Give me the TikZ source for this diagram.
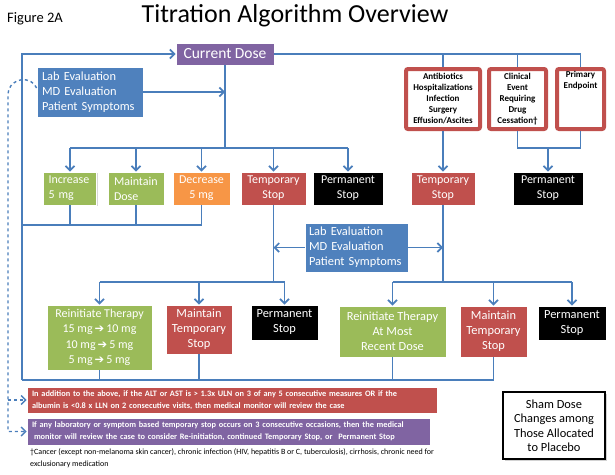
\documentclass[tikz,border=0pt]{standalone}
\usepackage{fontspec}
\setmainfont{Carlito}
\newfontfamily\symfont{DejaVu Sans}
\usetikzlibrary{arrows.meta,shadows}

\definecolor{lnblue}{HTML}{4A7EBB}
\definecolor{boxblue}{HTML}{4F81BD}
\definecolor{boxpurple}{HTML}{8064A2}
\definecolor{boxgreen}{HTML}{9BBB59}
\definecolor{boxorange}{HTML}{F79646}
\definecolor{boxred}{HTML}{C0504D}

\newcommand{\doseto}{\,{\symfont\fontsize{11.5}{10}\selectfont ➔}\,}

\tikzset{
  ln/.style={draw=lnblue, line width=1.7pt},
  dln/.style={draw=lnblue, line width=1.4pt, dashed},
  box/.style={draw=white, line width=0.8pt, inner sep=0pt, text=white,
    font=\fontsize{12}{15}\selectfont, align=center,
    drop shadow={shadow xshift=1.2pt, shadow yshift=-1.2pt, opacity=0.3}},
  greenbox/.style={box, fill=boxgreen},
  orangebox/.style={box, fill=boxorange},
  redbox/.style={box, fill=boxred},
  blackbox/.style={box, fill=black},
  bluebox/.style={box, fill=boxblue, font=\fontsize{12.4}{15}\selectfont},
  purplebox/.style={box, fill=boxpurple},
  redframe/.style={draw=boxred, line width=4pt, fill=white, rounded corners=2pt,
    inner sep=0pt, align=center, font=\fontsize{9}{11}\selectfont\bfseries,
    drop shadow={shadow xshift=1.2pt, shadow yshift=-1.2pt, opacity=0.3}},
  notebox/.style={box, inner xsep=5pt, align=left,
    font=\fontsize{8.3}{12}\selectfont\bfseries},
}

\begin{document}
\begin{tikzpicture}[x=1pt,y=-1pt,>={Straight Barb[length=4.5pt,width=9pt]}]
  \useasboundingbox[fill=white] (0,0) rectangle (615,474);

  % titel
  \node (fig) at (35,19) {\fontsize{14.5}{16}\selectfont Figure 2A};
  \node (title) at (295,16) {\fontsize{26}{30}\selectfont Titration Algorithm Overview};

  % boxen oben
  \node[purplebox, minimum width=98, minimum height=22,
    font=\fontsize{15.5}{18}\selectfont] (cur) at (225,54) {Current Dose};
  \node[bluebox, minimum height=50, text width=96, inner xsep=5pt, align=left]
    (lab1) at (90,92) {Lab Evaluation\\MD Evaluation\\Patient Symptoms};
  \node[redframe, minimum width=74, minimum height=60] (ant) at (443,99)
    {Antibiotics\\Hospitalizations\\Infection\\Surgery\\Effusion/Ascites};
  \node[redframe, minimum width=57, minimum height=60] (clin) at (517.5,99)
    {Clinical\\Event\\Requiring\\Drug\\Cessation\textdagger};
  \node[redframe, minimum width=47, minimum height=60] (prim) at (580.5,99) {};
  \node[anchor=north, inner sep=0pt, align=center,
    font=\fontsize{9}{11}\selectfont\bfseries] (primt) at ([yshift=-4pt]prim.north)
    {Primary\\Endpoint};

  % erste reihe
  \node[greenbox, minimum height=33, text width=43, inner xsep=5pt, align=left]
    (inc) at (70,188.5) {Increase\\5 mg};
  \node[greenbox, minimum height=33, text width=44, inner xsep=6pt, align=left]
    (mnt) at (136,188.5) {Maintain\\Dose};
  \node[orangebox, minimum width=57, minimum height=33] (dec) at (201.5,188.5) {Decrease\\5 mg};
  \node[redbox, minimum width=65, minimum height=33] (tmp1) at (273.5,188.5) {Temporary\\Stop};
  \node[blackbox, minimum width=70, minimum height=33] (perm1) at (348,188.5) {Permanent\\Stop};
  \node[redbox, minimum width=64, minimum height=33] (tmp2) at (443,188.5) {Temporary\\Stop};
  \node[blackbox, minimum width=70, minimum height=33] (perm2) at (548,188.5) {Permanent\\Stop};

  \node[bluebox, minimum height=49, text width=95, inner xsep=4pt, align=left]
    (lab2) at (356.5,247.5) {Lab Evaluation\\MD Evaluation\\Patient Symptoms};

  % zweite reihe
  \node[greenbox, minimum width=105, minimum height=65, font=\fontsize{12}{15.3}\selectfont]
    (rein1) at (99.5,337.5)
    {Reinitiate Therapy\\15 mg\doseto10 mg\\10 mg\doseto5 mg\\5 mg\doseto5 mg};
  \node[redbox, minimum width=66, minimum height=49, font=\fontsize{12.4}{15}\selectfont]
    (mtmp1) at (199,329.5) {Maintain\\Temporary\\Stop};
  \node[blackbox, minimum width=67, minimum height=35, font=\fontsize{12.4}{15}\selectfont]
    (perm3) at (284.5,322.5) {Permanent\\Stop};
  \node[greenbox, minimum width=107, minimum height=51, font=\fontsize{12.4}{15}\selectfont]
    (rein2) at (392.5,331.5) {Reinitiate Therapy\\At Most\\Recent Dose};
  \node[redbox, minimum width=67, minimum height=51, font=\fontsize{12.4}{15}\selectfont]
    (mtmp2) at (493.5,331.5) {Maintain\\Temporary\\Stop};
  \node[blackbox, minimum width=68, minimum height=34, font=\fontsize{12.4}{15}\selectfont]
    (perm4) at (572,323) {Permanent\\Stop};

  % hinweise unten
  \node[notebox, fill=boxred, text width=400, minimum height=26] (note1) at (232,400)
    {In addition to the above, if the ALT or AST is > 1.3x ULN on 3 of any 5 consecutive measures OR if the\\
     albumin is <0.8 x LLN on 2 consecutive visits, then medical monitor will review the case};
  \node[notebox, fill=boxpurple, text width=393, minimum height=27] (note2) at (228.5,431.5)
    {If any laboratory or symptom based temporary stop occurs on 3 consecutive occasions, then the medical\\
     \hspace{2pt}monitor will review the case to consider Re-initiation, continued Temporary Stop, or\hspace{3pt} Permanent Stop};
  \node[anchor=north west, inner sep=0pt, align=left, font=\fontsize{8}{12}\selectfont]
    (foot) at (30,448)
    {\textdagger Cancer (except non-melanoma skin cancer), chronic infection (HIV, hepatitis B or C, tuberculosis), cirrhosis, chronic need for\\
     exclusionary medication};
  \node[draw=black, line width=1.2pt, fill=white, minimum width=102, minimum height=67,
    align=center, font=\fontsize{12.4}{14.5}\selectfont,
    drop shadow={shadow xshift=1.5pt, shadow yshift=-1.5pt, opacity=0.35}]
    (sham) at (554,425.5) {Sham Dose\\Changes among\\Those Allocated\\to Placebo};

  % hilfspunkte
  \coordinate (lt) at (22,54);
  \coordinate (lm) at (22,225);
  \coordinate (lb) at (22,380);
  \coordinate (j1) at (225,148);
  \coordinate (j2) at (273.5,282);
  \coordinate (j3) at (443,282);
  \coordinate (j4) at (548,148);
  \coordinate (dk) at (8,400);

  % linien oben
  \draw[ln,->] (lb) -- (lt) -- (cur.west);
  \draw[ln] (cur.east) -| (prim.north);
  \draw[ln] (ant.north) -- (ant.north |- cur.east);
  \draw[ln] (clin.north) -- (clin.north |- cur.east);
  \draw[ln] (cur.south) -- (j1);
  \draw[ln,->] (lab1.east) -- (lab1.east -| cur.south);
  \draw[ln] (inc.north |- j1) -- (perm1.north |- j1);
  \foreach \n in {inc,mnt,dec,tmp1,perm1}
    \draw[ln,->] (\n.north |- j1) -- (\n.north);
  \draw[ln] (lm) -| (dec.south);
  \draw[ln] (inc.south) -- (inc.south |- lm);
  \draw[ln] (mnt.south) -- (mnt.south |- lm);

  % rechte seite
  \draw[ln,->] (ant.south) -- (tmp2.north);
  \draw[ln] (clin.south) |- (j4) -| (prim.south);
  \draw[ln,->] (j4) -- (perm2.north);

  % temporary stop
  \draw[ln] (tmp1.south) -- (j2);
  \draw[ln] (tmp2.south) -- (j3);
  \draw[ln,->] (lab2.west) -- (lab2.west -| tmp1.south);
  \draw[ln,->] (lab2.east) -- (lab2.east -| tmp2.south);
  \draw[ln] (rein1.north |- j2) -- (perm3.north |- j2);
  \draw[ln] (rein2.north |- j3) -- (perm4.north |- j3);
  \foreach \n in {rein1,mtmp1,perm3,rein2,mtmp2,perm4}
    \draw[ln,->] (\n.north |- j2) -- (\n.north);
  \draw[ln] (lb) -| (mtmp2.south);
  \foreach \n in {rein1,mtmp1,rein2}
    \draw[ln] (\n.south) -- (\n.south |- lb);

  % gestrichelt
  \draw[dln,->] ([yshift=4pt]lab1.west) .. controls (32,76) and (10,76) .. (8,94)
    |- (note2.west);
  \draw[dln,->] (dk) -- (note1.west);
\end{tikzpicture}
\end{document}
